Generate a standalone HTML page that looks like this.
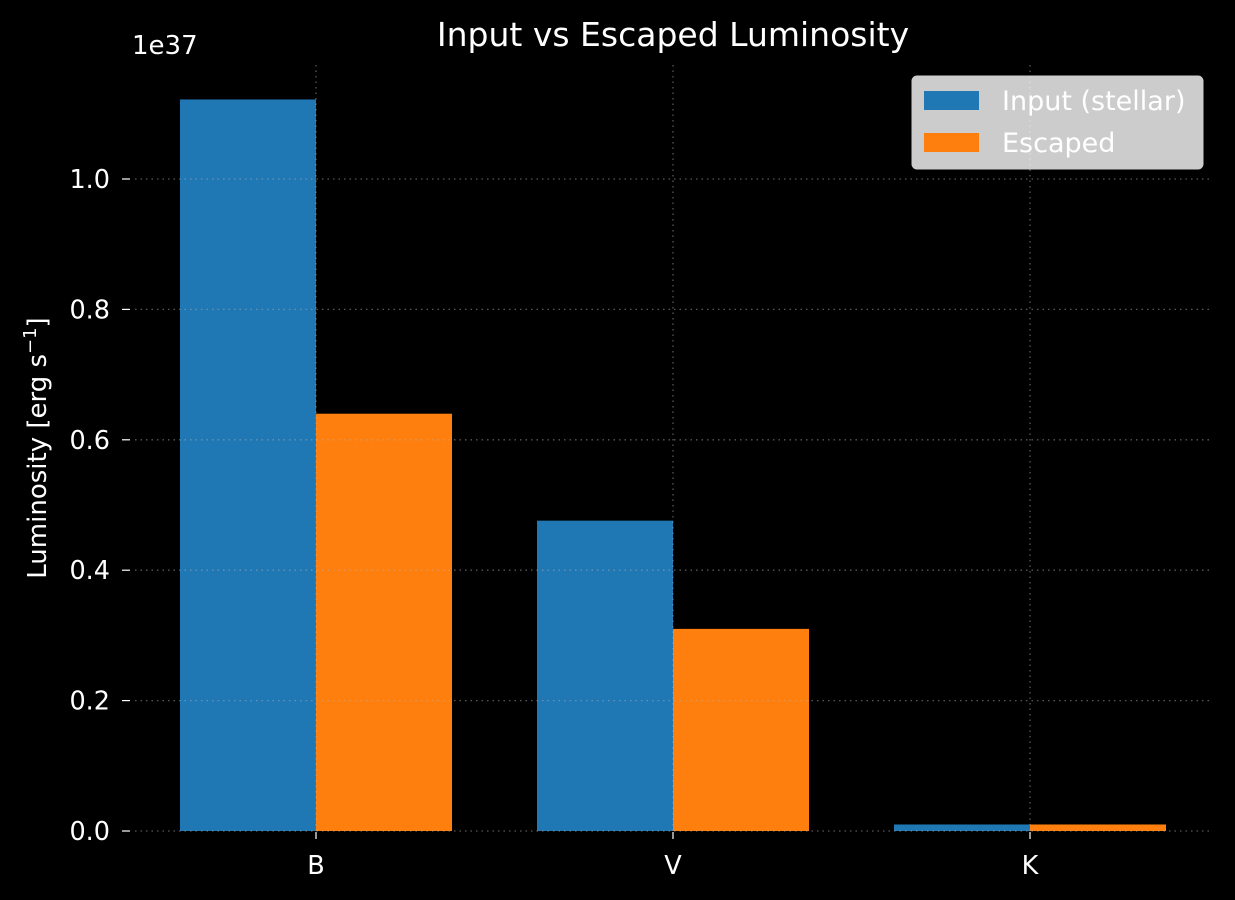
<!DOCTYPE html>
<html><head><meta charset="utf-8"><style>
html,body{margin:0;background:#000;}
svg{display:block;font-family:"DejaVu Sans","Liberation Sans",sans-serif;}
</style></head><body>
<svg id="chart" width="1235" height="900" viewBox="0 0 1235 900">
<rect width="1235" height="900" fill="#000"/>
<text x="673" y="46" fill="#fff" style="font-size:33px" text-anchor="middle">Input vs Escaped Luminosity</text>
<text x="132" y="54" fill="#fff" style="font-size:26px">1e37</text>
<text transform="translate(46,448) rotate(-90)" fill="#fff" style="font-size:26px" text-anchor="middle">Luminosity [erg s<tspan dy="-10" style="font-size:18px">−1</tspan><tspan dy="10">]</tspan></text>
<g id="bars"></g>
<g id="grid"></g>
<g id="axes"></g>
<g>
<rect x="912" y="76" width="291" height="93" rx="5" fill="#fff" fill-opacity="0.8" stroke="#ccc"/>
<rect x="924" y="91" width="55" height="19" fill="#1f77b4"/>
<text x="1002" y="110" fill="#fff" style="font-size:27px">Input (stellar)</text>
<rect x="924" y="133" width="55" height="19" fill="#ff7f0e"/>
<text x="1002" y="152" fill="#fff" style="font-size:27px">Escaped</text>
</g>
</svg>
<script>
const categories = ["B","V","K"];
const inputValues = [1.122, 0.476, 0.010];
const escapedValues = [0.640, 0.310, 0.010];
const yTicks = [0, 0.2, 0.4, 0.6, 0.8, 1.0];
const yTickLabels = ["0.0","0.2","0.4","0.6","0.8","1.0"];

const NS="http://www.w3.org/2000/svg";
const y0=831, ppu=652;
const yS=v=>y0-v*ppu;
const xS=i=>316+i*357;
const bw=136;
function mk(tag,attrs,parent){const e=document.createElementNS(NS,tag);for(const k in attrs)e.setAttribute(k,attrs[k]);parent.appendChild(e);return e;}
const bars=document.getElementById('bars'),grid=document.getElementById('grid'),axes=document.getElementById('axes');
categories.forEach((c,i)=>{
  let r=mk('rect',{x:xS(i)-bw,y:yS(inputValues[i]),width:bw,height:y0-yS(inputValues[i]),fill:'#1f77b4'},bars);
  
  
  let r2=mk('rect',{x:xS(i),y:yS(escapedValues[i]),width:bw,height:y0-yS(escapedValues[i]),fill:'#ff7f0e'},bars);
  
  
  let g=mk('line',{x1:xS(i),x2:xS(i),y1:65,y2:y0,stroke:'#b0b0b0','stroke-opacity':0.5,'stroke-dasharray':'1.5,4','stroke-width':1.3},grid);
  
  
  mk('line',{x1:xS(i),x2:xS(i),y1:y0+1,y2:y0+8,stroke:'#fff','stroke-width':1.2},axes);
  let t=mk('text',{x:xS(i),y:y0+43,fill:'#fff','text-anchor':'middle',style:'font-size:25.5px'},axes);
  t.textContent=c;
  
  
});
yTicks.forEach((v,i)=>{
  let g=mk('line',{x1:135,x2:1212,y1:yS(v),y2:yS(v),stroke:'#b0b0b0','stroke-opacity':0.5,'stroke-dasharray':'1.5,4','stroke-width':1.3},grid);
  
  
  mk('line',{x1:122,x2:130,y1:yS(v),y2:yS(v),stroke:'#fff','stroke-width':1.2},axes);
  let t=mk('text',{x:110,y:yS(v)+9,fill:'#fff','text-anchor':'end',style:'font-size:25.5px'},axes);
  t.textContent=yTickLabels[i];
  
  
});
</script>
</body></html>
